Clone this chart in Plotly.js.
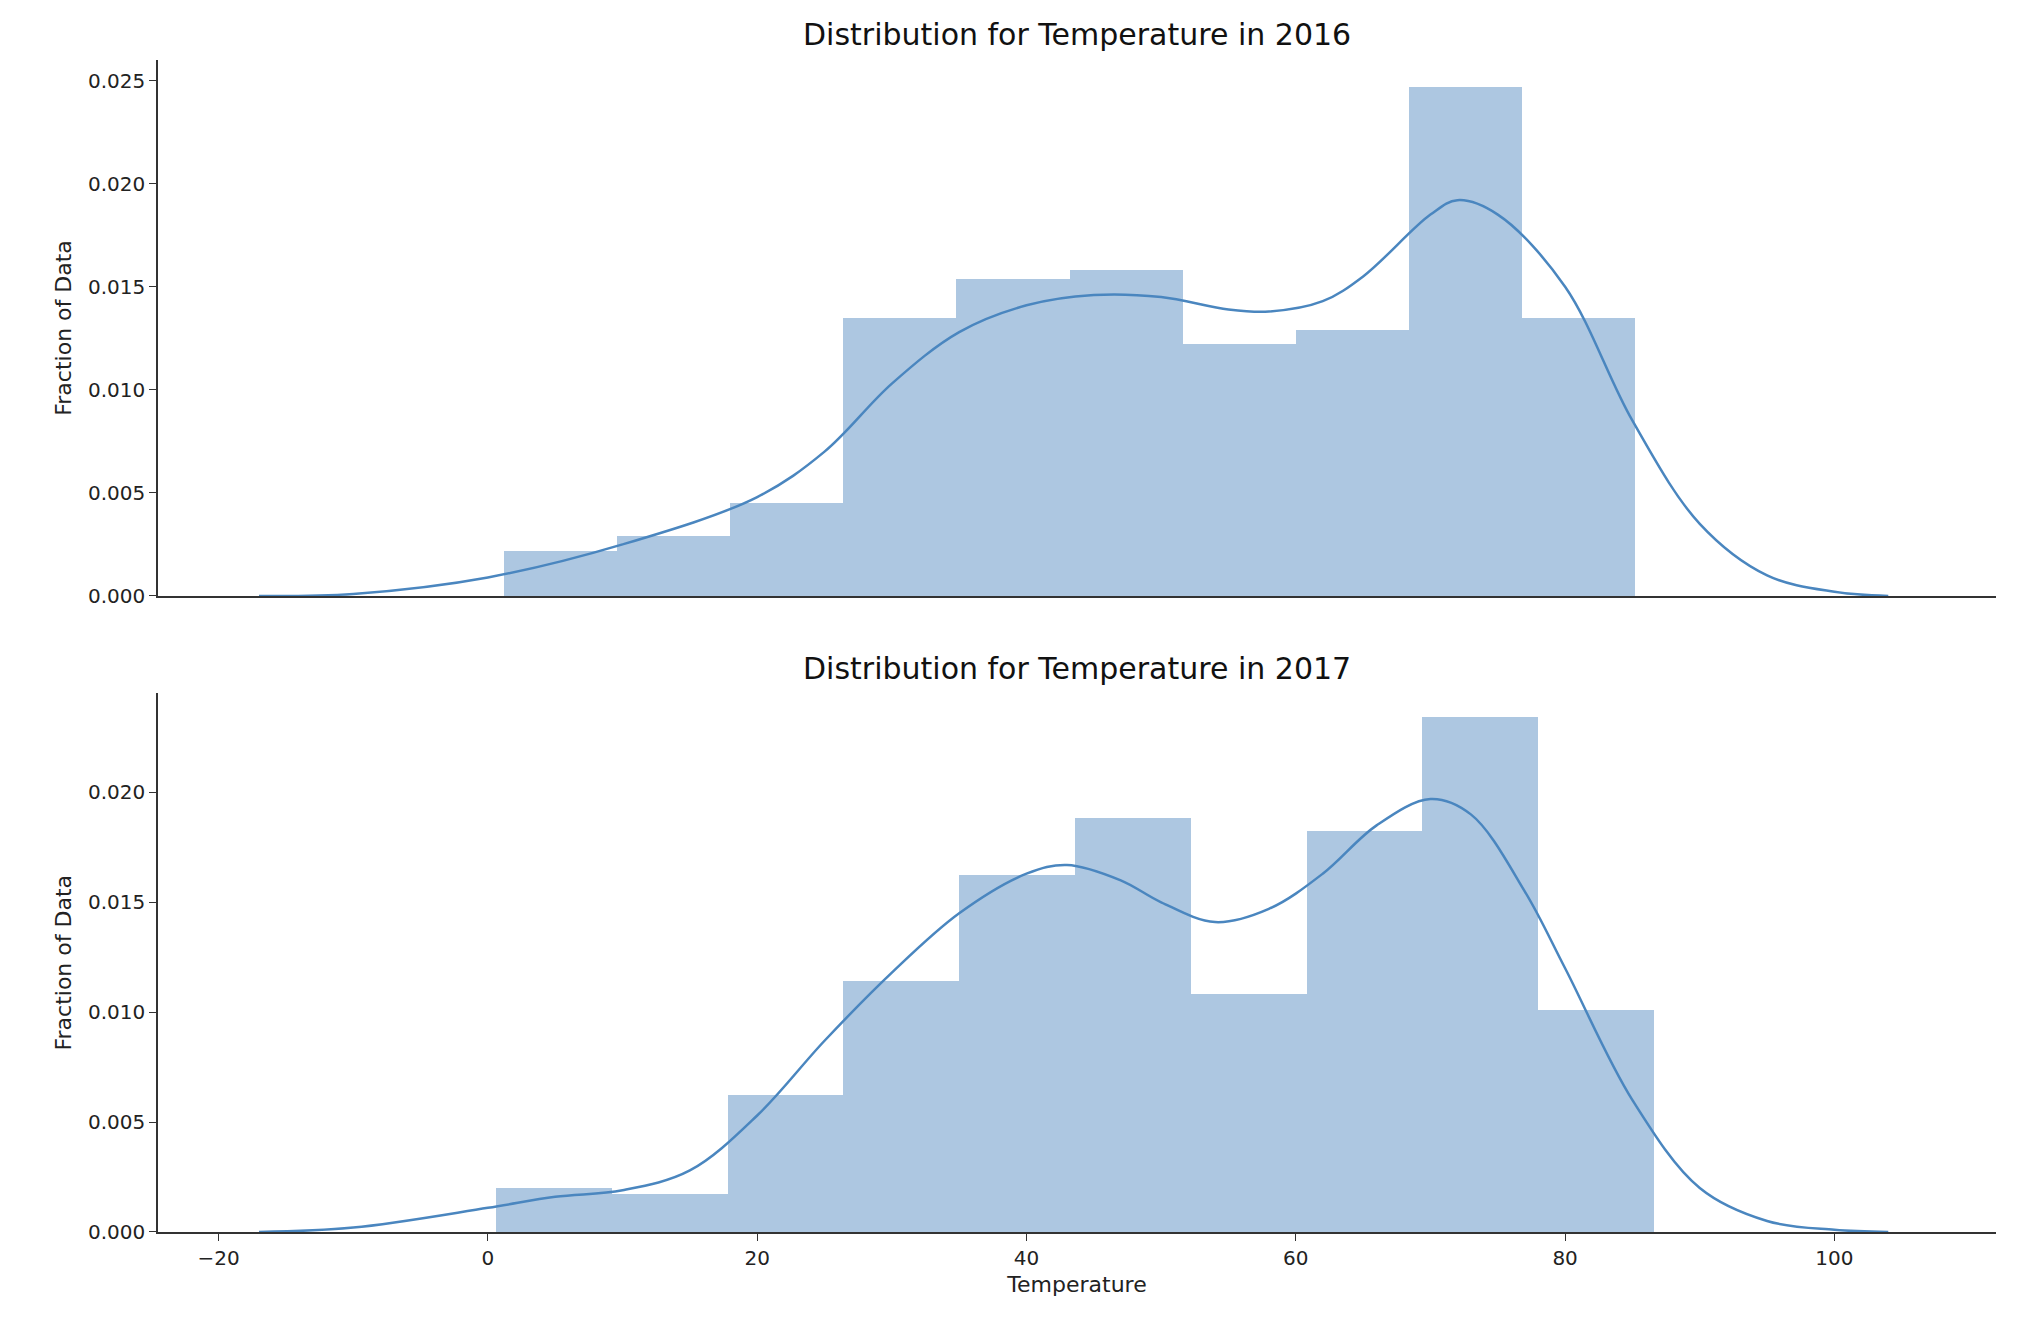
<!DOCTYPE html>
<html>
<head>
<script src="https://cdn.plot.ly/plotly-3.0.1.min.js"></script>
<style>body{margin:0;background:#fff}#chart{width:2032px;height:1324px}</style>
</head>
<body>
<div id="chart"></div>
<script>
// ─── Data ───
const edges2016 = [1.2, 9.6, 18.0, 26.4, 34.8, 43.2, 51.6, 60.0, 68.4, 76.8, 85.2];
const heights2016 = [0.0022, 0.0029, 0.0045, 0.0135, 0.0154, 0.0158, 0.0122, 0.0129, 0.0247, 0.0135];
const edges2017 = [0.6, 9.2, 17.8, 26.4, 35.0, 43.6, 52.2, 60.8, 69.4, 78.0, 86.6];
const heights2017 = [0.0020, 0.0017, 0.0062, 0.0114, 0.0162, 0.0188, 0.0108, 0.0182, 0.0234, 0.0101];

const kdeX2016 = [-17, -10, 0, 10, 20, 25, 30, 35, 40, 45, 50, 55, 58, 62, 65, 70, 72, 75, 80, 85, 90, 95, 100, 104];
const kdeY2016 = [0, 0.0001, 0.0009, 0.0025, 0.0048, 0.0070, 0.0103, 0.0128, 0.0141, 0.0146, 0.0145, 0.0139, 0.0138, 0.0143, 0.0155, 0.0185, 0.0192, 0.0185, 0.0150, 0.0085, 0.0035, 0.0010, 0.0002, 0];
const kdeX2017 = [-17, -10, 0, 5, 10, 15, 20, 25, 30, 35, 40, 43, 47, 50, 54, 58, 62, 66, 70, 73, 77, 80, 85, 90, 95, 100, 104];
const kdeY2017 = [0, 0.0002, 0.0011, 0.0016, 0.0019, 0.0028, 0.0053, 0.0087, 0.0118, 0.0145, 0.0163, 0.0167, 0.0160, 0.0150, 0.0141, 0.0147, 0.0163, 0.0185, 0.0197, 0.0190, 0.0155, 0.0120, 0.0060, 0.0020, 0.0005, 0.0001, 0];

const barColor = "rgba(76,134,190,0.46)";
const lineColor = "#4a86bf";

const mkBars = (edges, h, xa, ya) => ({
  type: "bar",
  x: h.map((_, i) => (edges[i] + edges[i + 1]) / 2),
  y: h,
  width: h.map((_, i) => edges[i + 1] - edges[i]),
  marker: { color: barColor, line: { width: 0 } },
  xaxis: xa, yaxis: ya, hoverinfo: "x+y",
});
const mkKde = (x, y, xa, ya) => ({
  type: "scatter", mode: "lines", x, y,
  line: { color: lineColor, width: 2.5, shape: "spline", smoothing: 1 },
  xaxis: xa, yaxis: ya,
});

const font = { family: "DejaVu Sans", size: 20, color: "#222" };
const xBase = {
  range: [-24.5, 112], showgrid: false, zeroline: false,
  showline: true, linecolor: "#333", linewidth: 1.5,
  ticks: "outside", ticklen: 7, tickcolor: "#333", dtick: 20,
  tickfont: font,
};
const yBase = {
  showgrid: false, zeroline: false, showline: true, linecolor: "#333",
  linewidth: 1.5, ticks: "outside", ticklen: 7, tickcolor: "#333",
  tickformat: ".3f", dtick: 0.005, tickfont: font,
  title: { text: "Fraction of Data", font: { family: "DejaVu Sans", size: 22, color: "#222" }, standoff: 10 },
};

const layout = {
  width: 2032, height: 1324,
  paper_bgcolor: "#fff", plot_bgcolor: "#fff",
  showlegend: false, bargap: 0,
  margin: { l: 158, r: 36, t: 60, b: 92 },
  font,
  xaxis: Object.assign({}, xBase, { domain: [0, 1], anchor: "y", showticklabels: false, ticks: "" }),
  yaxis: Object.assign({}, yBase, { domain: [0.5427, 1], range: [0, 0.026] }),
  xaxis2: Object.assign({}, xBase, { domain: [0, 1], anchor: "y2", title: { text: "Temperature", font: { family: "DejaVu Sans", size: 22, color: "#222" }, standoff: 8 } }),
  yaxis2: Object.assign({}, yBase, { domain: [0, 0.4595], range: [0, 0.0245] }),
  annotations: [
    { text: "Distribution for Temperature in 2016", xref: "paper", yref: "paper", x: 0.5, y: 1.005, yanchor: "bottom", showarrow: false, font: { family: "DejaVu Sans", size: 30, color: "#111" } },
    { text: "Distribution for Temperature in 2017", xref: "paper", yref: "paper", x: 0.5, y: 0.4645, yanchor: "bottom", showarrow: false, font: { family: "DejaVu Sans", size: 30, color: "#111" } },
  ],
};

Plotly.newPlot("chart", [
  mkBars(edges2016, heights2016, "x", "y"),
  mkKde(kdeX2016, kdeY2016, "x", "y"),
  mkBars(edges2017, heights2017, "x2", "y2"),
  mkKde(kdeX2017, kdeY2017, "x2", "y2"),
], layout, { displayModeBar: false });
</script>
</body>
</html>
